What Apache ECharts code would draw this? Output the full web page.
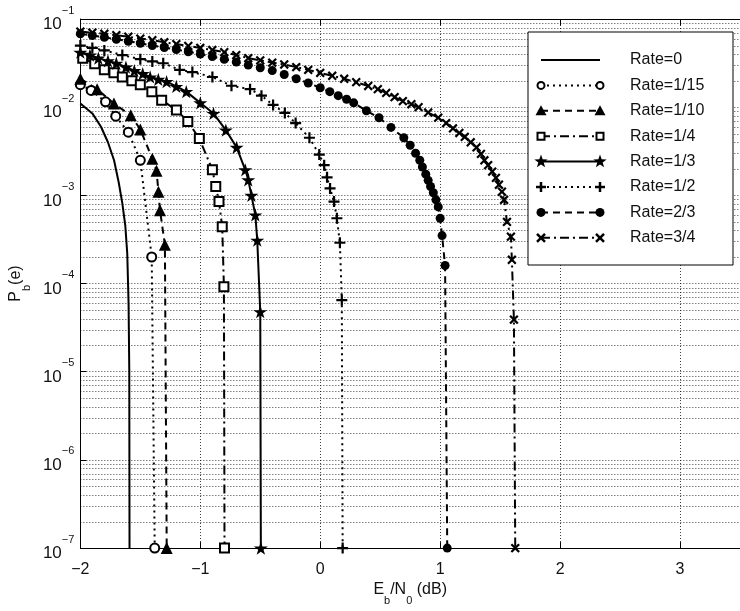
<!DOCTYPE html>
<html>
<head>
<meta charset="utf-8">
<script src="https://cdn.jsdelivr.net/npm/echarts@6/dist/echarts.min.js"></script>
<style>
  html, body { margin: 0; padding: 0; background: #fff; }
  #chart { width: 740px; height: 611px; }
</style>
</head>
<body>
<div id="chart"></div>
<script>
// Eb/N0 (dB) vs bit error probability, one [x, y] list per code rate
const rateNames = ['Rate=0', 'Rate=1/15', 'Rate=1/10', 'Rate=1/4', 'Rate=1/3', 'Rate=1/2', 'Rate=2/3', 'Rate=3/4'];

const rate0 = [
  [-2.0, 1.1e-2], [-1.9, 8.5e-3], [-1.828, 6.0e-3], [-1.77, 4.0e-3], [-1.719, 2.5e-3],
  [-1.68, 1.4e-3], [-1.65, 8.1e-4], [-1.625, 4.5e-4], [-1.609, 2.2e-4], [-1.598, 6.0e-5],
  [-1.592, 1e-5], [-1.59, 1e-7]
];
const rate1_15 = [
  [-2.0, 1.8e-2], [-1.91, 1.55e-2], [-1.79, 1.15e-2], [-1.705, 7.9e-3], [-1.6, 5.2e-3],
  [-1.5, 2.5e-3], [-1.405, 2.0e-4], [-1.38, 1e-7]
];
const rate1_10 = [
  [-2.0, 2.1e-2], [-1.86, 1.6e-2], [-1.72, 1.1e-2], [-1.58, 8.1e-3], [-1.5, 5.6e-3],
  [-1.4, 2.6e-3], [-1.365, 1.9e-3], [-1.349, 1.1e-3], [-1.336, 6.8e-4], [-1.295, 2.75e-4],
  [-1.28, 1e-7]
];
const rate1_4 = [
  [-1.98, 3.6e-2], [-1.88, 3.1e-2], [-1.8, 2.65e-2], [-1.72, 2.45e-2], [-1.65, 2.2e-2],
  [-1.57, 2.0e-2], [-1.5, 1.8e-2], [-1.404, 1.5e-2], [-1.322, 1.2e-2], [-1.199, 9.3e-3],
  [-1.104, 6.9e-3], [-1.008, 4.4e-3], [-0.899, 1.95e-3], [-0.871, 1.26e-3], [-0.844, 8.5e-4],
  [-0.817, 4.4e-4], [-0.803, 9.2e-5], [-0.798, 1e-7]
];
const rate1_3 = [
  [-2.0, 4.2e-2], [-1.92, 3.9e-2], [-1.85, 3.6e-2], [-1.77, 3.35e-2], [-1.7, 3.15e-2],
  [-1.62, 2.85e-2], [-1.55, 2.6e-2], [-1.48, 2.4e-2], [-1.418, 2.2e-2], [-1.35, 2.07e-2],
  [-1.281, 1.95e-2], [-1.2, 1.72e-2], [-1.117, 1.5e-2], [-1.0, 1.12e-2], [-0.89, 8.5e-3],
  [-0.787, 5.5e-3], [-0.697, 3.5e-3], [-0.625, 1.95e-3], [-0.6, 1.5e-3], [-0.574, 1.0e-3],
  [-0.541, 6.0e-4], [-0.525, 3.1e-4], [-0.5, 4.8e-5], [-0.495, 1e-7]
];
const rate1_2 = [
  [-2.0, 5.0e-2], [-1.9, 4.7e-2], [-1.8, 4.4e-2], [-1.65, 3.9e-2], [-1.5, 3.5e-2],
  [-1.4, 3.3e-2], [-1.309, 3.15e-2], [-1.172, 2.65e-2], [-1.066, 2.5e-2], [-0.899, 2.2e-2],
  [-0.74, 1.75e-2], [-0.585, 1.6e-2], [-0.49, 1.35e-2], [-0.393, 1.06e-2], [-0.295, 8.6e-3],
  [-0.205, 6.6e-3], [-0.09, 4.5e-3], [-0.008, 2.9e-3], [0.033, 2.2e-3], [0.057, 1.6e-3],
  [0.082, 1.2e-3], [0.115, 8.5e-4], [0.139, 5.5e-4], [0.164, 2.9e-4], [0.18, 6.5e-5],
  [0.187, 1e-7]
];
const rate2_3 = [
  [-2.0, 6.8e-2], [-1.9, 6.5e-2], [-1.8, 6.2e-2], [-1.7, 5.9e-2], [-1.6, 5.6e-2],
  [-1.5, 5.3e-2], [-1.4, 5.0e-2], [-1.3, 4.75e-2], [-1.2, 4.5e-2], [-1.1, 4.25e-2],
  [-1.0, 4.0e-2], [-0.9, 3.75e-2], [-0.8, 3.5e-2], [-0.7, 3.25e-2], [-0.6, 3.0e-2],
  [-0.5, 2.8e-2], [-0.4, 2.6e-2], [-0.3, 2.35e-2], [-0.2, 2.1e-2], [-0.1, 1.88e-2],
  [0.0, 1.66e-2], [0.08, 1.5e-2], [0.15, 1.35e-2], [0.22, 1.23e-2], [0.279, 1.12e-2],
  [0.385, 9.1e-3], [0.49, 7.6e-3], [0.59, 5.9e-3], [0.697, 4.5e-3], [0.75, 3.7e-3],
  [0.795, 3.0e-3], [0.83, 2.5e-3], [0.852, 2.1e-3], [0.88, 1.74e-3], [0.9, 1.48e-3],
  [0.92, 1.26e-3], [0.943, 1.07e-3], [0.965, 8.9e-4], [0.984, 7.4e-4], [1.0, 5.5e-4],
  [1.016, 3.5e-4], [1.041, 1.6e-4], [1.059, 1e-7]
];
const rate3_4 = [
  [-2.0, 7.2e-2], [-1.9, 7.0e-2], [-1.8, 6.8e-2], [-1.7, 6.55e-2], [-1.6, 6.3e-2],
  [-1.5, 6.0e-2], [-1.4, 5.75e-2], [-1.3, 5.45e-2], [-1.2, 5.2e-2], [-1.1, 4.95e-2],
  [-1.0, 4.7e-2], [-0.9, 4.45e-2], [-0.8, 4.2e-2], [-0.7, 3.9e-2], [-0.6, 3.6e-2],
  [-0.5, 3.4e-2], [-0.4, 3.2e-2], [-0.3, 3.05e-2], [-0.2, 2.85e-2], [-0.1, 2.65e-2],
  [0.0, 2.45e-2], [0.1, 2.27e-2], [0.2, 2.1e-2], [0.3, 1.92e-2], [0.4, 1.74e-2],
  [0.48, 1.6e-2], [0.55, 1.45e-2], [0.62, 1.3e-2], [0.689, 1.17e-2], [0.76, 1.08e-2],
  [0.82, 1.0e-2], [0.9, 8.7e-3], [0.984, 7.6e-3], [1.05, 6.6e-3], [1.107, 5.75e-3],
  [1.16, 5.1e-3], [1.205, 4.6e-3], [1.255, 4.0e-3], [1.303, 3.5e-3], [1.34, 2.95e-3],
  [1.369, 2.5e-3], [1.4, 2.2e-3], [1.434, 1.86e-3], [1.465, 1.58e-3], [1.49, 1.32e-3],
  [1.515, 1.1e-3], [1.533, 8.9e-4], [1.557, 5.0e-4], [1.59, 3.4e-4], [1.598, 1.86e-4],
  [1.615, 3.9e-5], [1.626, 1e-7]
];

const xTicks = [-2, -1, 0, 1, 2, 3];
const yDecades = [1e-1, 1e-2, 1e-3, 1e-4, 1e-5, 1e-6, 1e-7];
const minorSteps = [2, 3, 4, 5, 6, 7, 8, 9];

const FONT = '"Liberation Sans", Arial, Helvetica, sans-serif';
const STAR = 'path://M50,0 L61,35 L98,35 L68,57 L79,91 L50,70 L21,91 L32,57 L2,35 L39,35 Z';
const PLUS = 'path://M40,0 H60 V40 H100 V60 H60 V100 H40 V60 H0 V40 H40 Z';

const DOT = [2, 4], DASH = [7, 5], DASHDOT = [9, 4, 2, 4];
const GRID_DASH = [1, 2];

// one style entry per rate: dash, marker
const styles = [
  { data: rate0,    dash: 'solid', symbol: 'none' },
  { data: rate1_15, dash: DOT,     symbol: 'circle',   size: 9,  hollow: true,  kind: 'circle-o' },
  { data: rate1_10, dash: DASH,    symbol: 'triangle', size: 12, kind: 'tri' },
  { data: rate1_4,  dash: DASHDOT, symbol: 'rect',     size: 9,  hollow: true,  kind: 'sq-o' },
  { data: rate1_3,  dash: 'solid', symbol: STAR,       size: 14, kind: 'star' },
  { data: rate1_2,  dash: DOT,     symbol: PLUS,       size: 11, kind: 'plus' },
  { data: rate2_3,  dash: DASH,    symbol: 'circle',   size: 9,  kind: 'dot' },
  { data: rate3_4,  dash: DASHDOT, symbol: PLUS,       size: 11, rotate: 45, kind: 'x' }
];

// minor log grid values 2..9 inside every decade
const minorGrid = [];
yDecades.slice(1).forEach(d => minorSteps.forEach(m => minorGrid.push([-2, m * d])));

const series = [{
  type: 'custom',
  silent: true,
  z: 1,
  data: minorGrid,
  encode: { x: 0, y: 1 },
  renderItem: (params, api) => {
    const a = api.coord([-2, api.value(1)]);
    const b = api.coord([3.5, api.value(1)]);
    return {
      type: 'line',
      shape: { x1: a[0], y1: Math.round(a[1]) + 0.5, x2: b[0], y2: Math.round(b[1]) + 0.5 },
      style: { stroke: '#000', lineWidth: 1, lineDash: GRID_DASH, opacity: 0.75 }
    };
  }
}].concat(styles.map((s, i) => ({
  name: rateNames[i],
  type: 'line',
  data: s.data,
  z: 5,
  showSymbol: s.symbol !== 'none',
  showAllSymbol: true,
  symbol: s.symbol === 'none' ? 'none' : s.symbol,
  symbolSize: s.size,
  symbolRotate: s.rotate || 0,
  symbolKeepAspect: true,
  lineStyle: { color: '#000', width: 2, type: s.dash },
  itemStyle: s.hollow
    ? { color: '#fff', borderColor: '#000', borderWidth: 2 }
    : { color: '#000', borderColor: '#000', borderWidth: 0 }
})));

// legend, drawn by hand so each sample has a marker at both ends
const LX = 528, LY = 32, LW = 205, LH = 233;
const graphics = [{
  type: 'rect', z: 100,
  shape: { x: LX, y: LY, width: LW, height: LH },
  style: { fill: '#fff', stroke: '#000', lineWidth: 1 }
}];

function marker(kind, cx, cy) {
  const el = [];
  if (kind === 'circle-o') {
    el.push({ type: 'circle', shape: { cx, cy, r: 3.5 }, style: { fill: '#fff', stroke: '#000', lineWidth: 2 } });
  } else if (kind === 'tri') {
    el.push({ type: 'polygon', shape: { points: [[cx, cy - 5.5], [cx + 5.5, cy + 4.5], [cx - 5.5, cy + 4.5]] }, style: { fill: '#000' } });
  } else if (kind === 'sq-o') {
    el.push({ type: 'rect', shape: { x: cx - 3.5, y: cy - 3.5, width: 7, height: 7 }, style: { fill: '#fff', stroke: '#000', lineWidth: 2 } });
  } else if (kind === 'star') {
    const pts = [];
    for (let j = 0; j < 10; j++) {
      const r = j % 2 === 0 ? 7 : 2.8;
      const a = -Math.PI / 2 + j * Math.PI / 5;
      pts.push([cx + r * Math.cos(a), cy + r * Math.sin(a)]);
    }
    el.push({ type: 'polygon', shape: { points: pts }, style: { fill: '#000' } });
  } else if (kind === 'plus') {
    el.push({ type: 'line', shape: { x1: cx - 5, y1: cy, x2: cx + 5, y2: cy }, style: { stroke: '#000', lineWidth: 2.5 } });
    el.push({ type: 'line', shape: { x1: cx, y1: cy - 5, x2: cx, y2: cy + 5 }, style: { stroke: '#000', lineWidth: 2.5 } });
  } else if (kind === 'dot') {
    el.push({ type: 'circle', shape: { cx, cy, r: 4.5 }, style: { fill: '#000' } });
  } else if (kind === 'x') {
    el.push({ type: 'line', shape: { x1: cx - 4, y1: cy - 4, x2: cx + 4, y2: cy + 4 }, style: { stroke: '#000', lineWidth: 2.5 } });
    el.push({ type: 'line', shape: { x1: cx - 4, y1: cy + 4, x2: cx + 4, y2: cy - 4 }, style: { stroke: '#000', lineWidth: 2.5 } });
  }
  return el;
}

styles.forEach((s, i) => {
  const y = LY + 28 + i * 25.4;
  graphics.push({
    type: 'line', z: 101,
    shape: { x1: 541, y1: y, x2: 600, y2: y },
    style: { stroke: '#000', lineWidth: 2, lineDash: s.dash === 'solid' ? null : s.dash }
  });
  if (s.kind) {
    marker(s.kind, 541, y).concat(marker(s.kind, 600, y)).forEach(m => { m.z = 102; graphics.push(m); });
  }
  graphics.push({
    type: 'text', z: 102,
    style: { text: rateNames[i], x: 630, y: y, fill: '#111', font: '16px ' + FONT, verticalAlign: 'middle' }
  });
});

const chart = echarts.init(document.getElementById('chart'), null, { renderer: 'canvas' });
chart.setOption({
  animation: false,
  backgroundColor: '#fff',
  grid: { left: 79, top: 19, right: -11, bottom: 57, containLabel: false },
  xAxis: [{
    type: 'value',
    min: -2, max: 3.5, interval: 1,
    position: 'bottom',
    axisLine: { show: true, onZero: false, lineStyle: { color: '#000', width: 1 } },
    axisTick: { show: true, inside: true, length: 6, lineStyle: { color: '#000' } },
    axisLabel: {
      fontSize: 16, fontFamily: FONT, color: '#111', margin: 13, showMaxLabel: false,
      formatter: v => (xTicks.indexOf(v) >= 0 ? String(v).replace('-', '\u2212') : '')
    },
    splitLine: { show: true, lineStyle: { color: '#000', width: 1, type: GRID_DASH, opacity: 0.75 } },
    name: '{a|E}{s|b}{a|/N}{s|0}{a| (dB)}',
    nameLocation: 'middle',
    nameGap: 28,
    nameTextStyle: {
      rich: {
        a: { fontSize: 16, fontFamily: FONT, color: '#111', lineHeight: 24, verticalAlign: 'top' },
        s: { fontSize: 11, fontFamily: FONT, color: '#111', lineHeight: 24, verticalAlign: 'bottom' }
      }
    }
  }, {
    type: 'value',
    min: -2, max: 3.5, interval: 1,
    position: 'top',
    axisLine: { show: true, onZero: false, lineStyle: { color: '#000', width: 1 } },
    axisTick: { show: true, inside: true, length: 6, lineStyle: { color: '#000' } },
    axisLabel: { show: false },
    splitLine: { show: false }
  }],
  yAxis: {
    type: 'log',
    logBase: 10,
    min: 1e-7, max: 1e-1,
    splitNumber: 6,
    axisLine: { show: true, onZero: false, lineStyle: { color: '#000', width: 1 } },
    axisTick: { show: true, inside: true, length: 6, lineStyle: { color: '#000' } },
    axisLabel: {
      margin: 6,
      formatter: v => {
        const e = Math.round(Math.log10(v));
        return yDecades.some(d => Math.abs(Math.log10(d) - e) < 1e-6)
          ? '{b|10}{e|\u2212' + (-e) + '}' : '';
      },
      rich: {
        b: { fontSize: 17, fontFamily: FONT, color: '#111', lineHeight: 28, verticalAlign: 'bottom' },
        e: { fontSize: 11, fontFamily: FONT, color: '#111', lineHeight: 28, verticalAlign: 'top' }
      }
    },
    splitLine: { show: true, lineStyle: { color: '#000', width: 1, type: GRID_DASH, opacity: 0.75 } },
    name: '{a|P}{s|b}{a|(e)}',
    nameLocation: 'middle',
    nameRotate: 90,
    nameGap: 37,
    nameTextStyle: {
      rich: {
        a: { fontSize: 16, fontFamily: FONT, color: '#111', lineHeight: 24, verticalAlign: 'top' },
        s: { fontSize: 11, fontFamily: FONT, color: '#111', lineHeight: 24, verticalAlign: 'bottom' }
      }
    }
  },
  legend: { show: false },
  series: series,
  graphic: graphics
});
</script>
</body>
</html>
